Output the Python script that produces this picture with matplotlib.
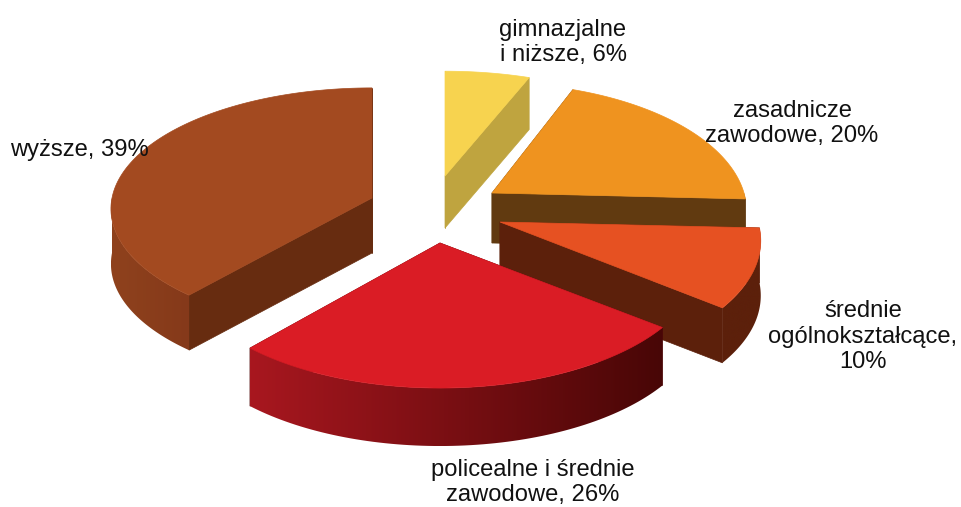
import numpy as np
import matplotlib
matplotlib.use("Agg")
import matplotlib.pyplot as plt
from matplotlib.colors import LinearSegmentedColormap
from matplotlib.patches import Polygon

plt.rcParams['font.family'] = ['Liberation Sans', 'DejaVu Sans']

# Dane
categories = ['gimnazjalne\ni niższe, ', 'zasadnicze\nzawodowe, ', 'średnie\nogólnokształcące,\n', 'policealne i średnie\nzawodowe, ', 'wyższe, ']
values = [6, 20, 10, 26, 39]
value_labels = ['6%', '20%', '10%', '26%', '39%']

# Kolory: wierzch, przekroj, sciana zewnetrzna (lewa, prawa)
top_colors = ['#F7D34F', '#EF931F', '#E65122', '#DA1C25', '#A34A20']
cut_colors = ['#BFA43F', '#613A10', '#5C200B', '#4F0808', '#672C10']
wall_colors = [('#BFA43F', '#BFA43F'), ('#613A10', '#613A10'), ('#5C200B', '#5C200B'),
               ('#A8171F', '#480606'), ('#8F421D', '#85391A')]

# Polozenie wycinkow (rozsuniecie) i perspektywa, w pikselach
apex_x = [445, 492, 500, 440, 372]
apex_y = [176, 193, 222, 243, 198]
depth = [52, 50, 55, 58, 55]
radius_x = [262, 252, 258, 258, 260]
radius_y = [120, 126, 126, 124, 120]
persp = [0.145, 0.145, 0.145, 0.145, 0.09]
label_x = [563, 792, 863, 533, 10]
label_y = [61, 142, 368, 501, 156]
label_ha = ['center', 'center', 'center', 'center', 'left']


def project(theta, i):
    X, Y = np.sin(theta), np.cos(theta)
    w = 1 + persp[i] * Y
    return apex_x[i] + radius_x[i] * X / w, apex_y[i] - radius_y[i] * Y / w


fig = plt.figure(figsize=(9.61, 5.07), dpi=100)
ax = fig.add_axes([0, 0, 1, 1])

# kolejnosc rysowania: najpierw tylne wycinki
order = [4, 0, 1, 2, 3]
fracs = np.array(values) / sum(values) * 2 * np.pi
starts = np.concatenate([[0], np.cumsum(fracs)[:-1]])

for z, i in enumerate(order):
    a, b = starts[i], starts[i] + fracs[i]
    th = np.linspace(a, b, 120)
    x, y = project(th, i)
    d = depth[i]

    # sciany przekroju
    for j in [0, -1]:
        quad = [(apex_x[i], apex_y[i]), (x[j], y[j]), (x[j], y[j] + d), (apex_x[i], apex_y[i] + d)]
        ax.add_patch(Polygon(quad, closed=True, fc=cut_colors[i], ec=cut_colors[i], lw=0.5, zorder=z + 1))

    # sciana zewnetrzna z gradientem (tylko przednia czesc luku)
    lo, hi = max(a, np.pi / 2), min(b, 3 * np.pi / 2)
    if hi > lo:
        tw = np.linspace(lo, hi, 80)
        wx, wy = project(tw, i)
        pts = np.vstack([np.c_[wx, wy], np.c_[wx[::-1], wy[::-1] + d]])
        cmap = LinearSegmentedColormap.from_list('w', wall_colors[i])
        im = ax.imshow(np.linspace(0, 1, 256).reshape(1, -1), cmap=cmap, aspect='auto',
                       extent=[wx.min(), wx.max(), wy.max() + d, wy.min()], zorder=z + 1.1)
        clip = Polygon(pts, closed=True, transform=ax.transData, fc='none', ec='none')
        ax.add_patch(clip)
        im.set_clip_path(clip)

    # wierzch
    top = np.vstack([[apex_x[i], apex_y[i]], np.c_[x, y]])
    ax.add_patch(Polygon(top, closed=True, fc=top_colors[i], ec=top_colors[i], lw=0.5, zorder=z + 1.2))

for i in range(len(values)):
    ax.text(label_x[i], label_y[i], categories[i] + value_labels[i], ha=label_ha[i], va='baseline',
            multialignment=label_ha[i], fontsize=17.1, color='#111111', linespacing=1.2, zorder=20)

ax.set_xlim(0, 961)
ax.set_ylim(507, 0)
ax.axis('off')
fig.savefig('out.png', dpi=100)
